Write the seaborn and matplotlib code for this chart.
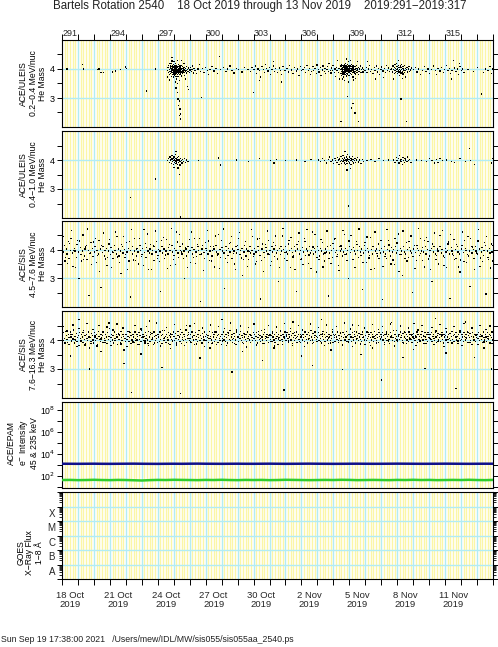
import numpy as np
import pandas as pd
import matplotlib
matplotlib.use("Agg")
import matplotlib.pyplot as plt
import seaborn as sns
from matplotlib.ticker import FixedLocator, FixedFormatter, NullFormatter, LogLocator

# ---------------- data (hours since 2019:291 00:00, mass x100) ----------------
TITLE = "Bartels Rotation 2540    18 Oct 2019 through 13 Nov 2019    2019:291\u22122019:317"
FOOTER = "Sun Sep 19 17:38:00 2021   /Users/mew/IDL/MW/sis055/sis055aa_2540.ps"
DAY_LABELS = ["291", "294", "297", "300", "303", "306", "309", "312", "315"]
DATE_LABELS = ["18 Oct\n2019", "21 Oct\n2019", "24 Oct\n2019", "27 Oct\n2019", "30 Oct\n2019",
               "2 Nov\n2019", "5 Nov\n2019", "8 Nov\n2019", "11 Nov\n2019"]
LABEL_DAYS = [0, 3, 6, 9, 12, 15, 18, 21, 24]
PANEL_LABELS = ["ACE/ULEIS\n0.2\u22120.4 MeV/nuc\nHe Mass",
                "ACE/ULEIS\n0.4\u22121.0 MeV/nuc\nHe Mass",
                "ACE/SIS\n4.5\u22127.6 MeV/nuc\nHe Mass",
                "ACE/SIS\n7.6\u221216.3 MeV/nuc\nHe Mass",
                "ACE/EPAM\ne$^{-}$ Intensity\n45 & 235 keV",
                "GOES\nX\u2212Ray Flux\n1\u22128 \u00c5"]
GOES_CLASSES = ["A", "B", "C", "M", "X"]
GOES_CLASS_FLUX = [10**-7.5, 10**-6.5, 10**-5.5, 10**-4.5, 10**-3.5]

# panel 1: ULEIS 0.2-0.4 MeV/nuc  (hour, mass*100) pairs
P1 = [7,400, 30,415, 32,400, 53,398, 55,400, 58,388, 62,388, 75,390, 80,393, 87,398, 95,407, 96,402, 127,324, 140,400,
      158,395, 159,405, 160,388, 160,412, 161,398, 161,380, 162,420, 162,392, 163,403, 163,385, 163,410, 164,397, 164,375,
      164,418, 165,400, 165,389, 165,408, 165,428, 166,395, 166,382, 166,412, 166,401, 167,390, 167,405, 167,372, 167,415,
      168,398, 168,386, 168,409, 168,393, 168,425, 169,402, 169,378, 169,396, 169,412, 169,388, 170,400, 170,407, 170,383,
      170,394, 170,418, 171,392, 171,404, 171,375, 171,399, 171,410, 172,386, 172,401, 172,397, 172,413, 172,365, 173,395,
      173,406, 173,380, 173,390, 173,430, 174,399, 174,388, 174,408, 174,374, 175,402, 175,393, 175,415, 175,384, 176,397,
      176,405, 176,380, 176,392, 177,410, 177,389, 177,400, 178,395, 178,383, 178,407, 179,398, 179,376, 179,412, 180,390,
      180,402, 181,396, 181,385, 181,408, 182,393, 182,400, 183,388, 183,404, 184,397, 184,378, 185,402, 185,391, 186,395,
      187,408, 187,386, 188,399, 189,392, 190,403, 191,388, 192,397, 193,405, 194,392, 195,398, 197,386, 198,402, 200,395,
      158,372, 161,362, 165,440, 170,355, 176,360, 179,430, 183,420, 185,365, 164,392, 166,404, 168,380, 170,412, 172,393,
      174,396, 176,410, 178,399, 167,398, 169,405, 171,386, 173,398, 175,396, 177,393,
      171,335, 173,320, 174,297, 176,290, 175,275, 177,262, 178,245, 176,240, 178,228, 173,350, 188,340, 190,330,
      196,410, 199,395, 202,385, 204,400, 206,415, 208,392, 209,301, 211,402, 213,388, 215,405, 218,396, 220,380, 222,398,
      225,408, 228,393, 231,401, 233,385, 236,442, 238,398, 242,405, 246,392, 248,400, 252,410, 255,395, 258,386, 262,402,
      265,398, 270,390, 274,405, 279,398,
      283,392, 285,405, 287,320, 288,398, 290,410, 292,385, 294,400, 296,395, 298,372, 300,408, 302,398, 304,388, 305,415,
      307,401, 309,393, 311,405, 313,380, 315,398, 317,410, 319,392, 321,401, 323,387, 326,403, 328,396, 330,380, 332,408,
      335,395, 338,402, 340,390, 342,412, 345,397, 347,385, 349,404, 352,393, 354,400, 356,378, 358,408, 360,395, 296,360,
      330,355, 317,425,
      362,398, 364,405, 366,387, 368,412, 370,395, 372,401, 373,380, 375,392, 377,408, 378,396, 380,402, 382,385, 383,414,
      385,399, 386,390, 388,405, 389,377, 391,397, 392,410, 394,392, 395,402, 396,384, 398,399, 399,408, 400,392, 401,420,
      403,396, 404,386, 405,403, 406,395, 407,412, 409,389, 410,400, 411,375, 412,405, 413,396, 414,430, 415,388, 416,402,
      417,365, 418,410,
      419,398, 419,385, 419,410, 420,402, 420,392, 420,378, 420,415, 421,400, 421,388, 421,406, 421,395, 422,412, 422,383,
      422,398, 422,404, 423,391, 423,408, 423,372, 423,399, 424,402, 424,386, 424,415, 424,394, 425,400, 425,410, 425,380,
      425,396, 426,389, 426,405, 426,398, 426,420, 427,392, 427,401, 427,376, 427,410, 428,397, 428,385, 428,404, 428,392,
      429,408, 429,399, 429,382, 429,415, 430,395, 430,402, 430,388, 430,425, 431,398, 431,410, 431,378, 432,393, 432,405,
      432,387, 432,400, 433,412, 433,396, 433,384, 434,402, 434,391, 434,408, 435,399, 435,380, 435,415, 436,395, 436,404,
      436,389, 437,400, 437,410, 437,372, 438,393, 438,405, 439,386, 439,399, 440,408, 440,392, 441,401, 441,383, 442,396,
      442,412, 443,388, 443,402, 444,397, 445,405, 445,380, 446,392, 447,400, 448,410, 449,387, 450,398, 451,403, 452,390,
      453,398, 424,360, 430,355, 438,362, 444,425, 427,435, 433,430, 421,365, 441,368, 422,390, 424,405, 426,394, 428,401,
      430,391, 432,397, 434,395, 436,400, 438,387, 440,399, 425,392, 429,392, 433,391, 437,395,
      429,305, 435,265, 440,248, 445,220, 419,220, 437,282,
      455,395, 457,405, 458,388, 460,400, 462,412, 463,392, 465,399, 467,385, 469,404, 470,396, 472,410, 474,390, 475,402,
      477,380, 479,398, 480,407, 482,393, 484,401, 486,388, 487,412, 489,395, 490,403, 492,391, 494,398, 459,425, 471,365,
      483,370,
      495,402, 496,390, 497,410, 498,398, 499,385, 499,405, 500,415, 500,395, 501,388, 501,402, 502,420, 502,398, 503,392,
      503,408, 504,385, 504,400, 505,412, 505,396, 506,390, 506,405, 507,378, 507,399, 508,410, 508,393, 509,386, 509,404,
      509,297, 510,398, 510,415, 511,390, 511,402, 512,383, 512,408, 513,396, 513,400, 514,388, 514,412, 515,395, 516,402,
      516,372, 517,398, 517,220, 518,405, 519,390, 520,400, 521,408, 522,392, 523,397, 525,403, 505,430, 511,368, 498,365,
      528,398, 531,405, 533,390, 536,400, 538,382, 541,395, 544,408, 547,392, 550,400, 552,385, 555,398, 558,410, 561,395,
      563,380, 565,402, 568,393, 570,405, 573,388, 575,398, 578,412, 580,395, 582,401, 584,385, 586,396, 588,430, 590,403,
      592,392, 594,400, 596,382, 598,408, 600,395, 602,400, 604,388, 585,365, 597,420,
      610,398, 618,392, 624,405, 630,314, 633,388, 636,400, 640,395, 643,408, 645,385, 647,400]

# panel 2: ULEIS 0.4-1.0 MeV/nuc
P2 = [102,270, 140,334, 205,398, 235,407, 238,383, 262,400, 280,395, 296,405, 313,398, 318,390, 322,402, 336,398,
      352,400, 365,395, 374,402,
      158,398, 160,405, 161,392, 162,410, 163,400, 164,388, 165,403, 165,415, 166,396, 167,405, 167,385, 168,399, 168,410,
      169,392, 169,402, 170,397, 170,420, 171,388, 171,404, 172,400, 172,393, 173,408, 173,385, 174,398, 174,402, 175,392,
      175,412, 176,400, 177,395, 177,383, 178,405, 178,203, 179,398, 180,390, 181,402, 182,396, 184,405, 185,392, 187,400,
      189,396, 171,430, 174,372, 168,375, 176,350,
      385,400, 388,395, 391,405, 394,398, 397,390, 400,402, 402,410, 404,395, 406,400, 408,388, 410,405, 411,398, 413,392,
      414,408, 415,400, 416,385, 417,403, 418,396, 419,412, 420,398, 420,388, 421,405, 422,395, 422,415, 423,400, 424,390,
      424,407, 425,398, 426,385, 426,402, 427,410, 427,395, 428,400, 428,388, 429,405, 429,420, 430,396, 430,241, 431,402,
      432,390, 432,410, 433,398, 434,405, 434,385, 435,400, 436,395, 436,412, 437,402, 438,390, 439,398, 440,405, 441,392,
      442,400, 444,408, 445,393, 447,400, 449,388, 451,402, 453,395, 425,430, 433,370, 428,365,
      458,398, 464,402, 470,395, 476,405, 483,398, 490,400,
      498,400, 500,392, 502,408, 503,398, 505,405, 506,390, 507,415, 508,400, 509,395, 510,402, 511,385, 512,408, 513,398,
      514,392, 515,405, 516,400, 518,395, 519,410, 520,398, 522,402, 524,392,
      532,400, 540,398, 548,395, 552,405, 556,398, 560,390, 563,402, 565,392, 568,405, 572,398, 578,400, 585,395, 590,392,
      598,405, 606,395, 612,440, 614,398, 620,385, 645,390, 647,405]

# panel 3: SIS 4.5-7.6 MeV/nuc
P3 = [1,392, 3,415, 4,360, 6,402, 7,385, 9,428, 10,370, 12,398, 13,440, 15,388, 16,342, 18,405, 19,395, 21,372, 22,418,
      24,392, 25,300, 27,408, 28,382, 30,395, 31,451, 33,378, 34,402, 36,415, 37,365, 39,398, 40,240, 42,388, 43,425,
      45,405, 46,375, 48,392, 49,410, 51,355, 52,398, 54,385, 55,432, 57,402, 58,268, 60,390, 61,412, 63,378, 64,398,
      66,405, 67,345, 69,395, 70,420, 72,382, 73,408, 75,392, 76,368, 78,415, 79,398, 81,385, 82,445, 84,402, 85,378,
      87,395, 88,318, 90,410, 91,388, 93,400, 94,372, 96,425, 97,392, 99,405, 100,360, 102,398, 103,235, 105,412, 106,385,
      108,395, 109,438, 111,378, 112,402, 114,392, 115,350, 117,415, 118,398, 120,382, 121,405, 123,470, 124,390, 126,372,
      127,408, 129,395, 130,330, 132,402, 133,418, 135,385, 136,398, 138,362, 139,410, 141,392, 142,428, 144,380, 145,400,
      147,395, 148,255, 150,412, 151,388, 153,402, 154,370, 156,395, 157,435, 159,385, 160,408, 162,398, 163,345, 165,415,
      166,392, 168,380, 169,405, 171,398, 172,462, 174,388, 175,372, 177,410, 178,398, 180,385, 181,420, 183,395, 184,300,
      186,402, 187,378, 189,412, 190,392, 192,398, 193,355, 195,408, 196,385, 198,400, 199,440, 201,392, 202,375, 204,410,
      205,398, 207,382, 208,220, 210,402, 211,415, 213,390, 214,368, 216,405, 217,398, 219,385, 220,430, 222,395, 223,410,
      225,378, 226,398, 228,402, 229,340, 231,415, 232,392, 234,385, 235,452, 237,400, 238,372, 240,408, 241,395, 243,388,
      244,265, 246,412, 247,398, 249,380, 250,405, 252,392, 253,425, 255,370, 256,402, 258,395, 259,350, 261,410, 262,388,
      264,400, 265,438, 267,382, 268,398, 270,405, 271,310, 273,392, 274,415, 276,378, 277,402, 279,395, 280,365, 282,410,
      283,388, 285,398, 286,445, 288,385, 289,405, 291,392, 292,358, 294,412, 295,398, 297,380, 298,228, 300,402, 301,420,
      303,390, 304,372, 306,408, 307,395, 309,385, 310,432, 312,398, 313,345, 315,410, 316,392, 318,402, 319,375, 321,415,
      322,388, 324,398, 325,290, 327,405, 328,382, 330,395, 331,448, 333,400, 334,368, 336,410, 337,392, 339,385, 340,420,
      342,398, 343,338, 345,405, 346,390, 348,378, 349,412, 351,395, 352,255, 354,402, 355,428, 357,385, 358,398, 360,370,
      361,408, 363,392, 364,440, 366,380, 367,402, 369,395, 370,352, 372,410, 373,388, 375,398, 376,462, 378,385, 379,405,
      381,392, 382,322, 384,412, 385,398, 387,378, 388,405, 390,395, 391,425, 393,385, 394,360, 396,402, 397,392, 399,410,
      400,238, 402,388, 403,415, 405,398, 406,372, 408,405, 409,435, 411,390, 412,398, 414,382, 415,345, 417,410, 418,395,
      420,402, 421,378, 423,392, 424,452, 426,405, 427,385, 429,398, 430,300, 432,412, 433,390, 435,400, 436,365, 438,408,
      439,395, 441,385, 442,428, 444,398, 445,372, 447,410, 448,392, 450,402, 451,262, 453,388, 454,415, 456,398, 457,355,
      459,405, 460,392, 462,380, 463,442, 465,400, 466,385, 468,410, 469,335, 471,395, 472,402, 474,378, 475,420, 477,398,
      478,388, 480,405, 481,225, 483,392, 484,412, 486,385, 487,368, 489,400, 490,432, 492,395, 493,378, 495,408, 496,392,
      498,400, 499,348, 501,412, 502,388, 504,398, 505,455, 507,382, 508,405, 510,395, 511,310, 513,410, 514,392, 516,385,
      517,425, 519,400, 520,372, 522,408, 523,395, 525,388, 526,250, 528,402, 529,415, 531,390, 532,362, 534,405, 535,398,
      537,380, 538,440, 540,395, 541,408, 543,392, 544,340, 546,410, 547,385, 549,400, 550,428, 552,378, 553,398, 555,405,
      556,288, 558,392, 559,412, 561,385, 562,365, 564,402, 565,395, 567,410, 568,450, 570,388, 571,400, 573,378, 574,345,
      576,405, 577,392, 579,398, 580,420, 582,385, 583,230, 585,408, 586,395, 588,380, 589,435, 591,400, 592,370, 594,410,
      595,392, 597,385, 598,322, 600,402, 601,415, 603,390, 604,358, 606,405, 607,398, 609,382, 610,445, 612,395, 613,272,
      615,410, 616,388, 618,400, 619,368, 621,412, 622,395, 624,385, 625,430, 627,402, 628,342, 630,392, 631,408, 633,380,
      634,398, 636,415, 637,245, 639,395, 640,372, 642,405, 643,388, 645,420, 646,392, 647,360]
P3_WIDE = [2,445, 5,372, 8,352, 11,421, 14,468, 17,396, 20,338, 23,433, 26,430, 29,361, 32,365, 35,409, 38,472, 41,386,
           44,348, 47,427, 50,440, 53,379, 56,325, 59,414, 62,458, 65,367, 68,372, 71,436, 74,338, 77,391, 80,462, 83,374,
           86,355, 89,417, 92,445, 95,383, 98,332, 101,429, 104,470, 107,364, 110,362, 113,404, 116,438, 119,377, 122,345,
           125,422, 128,455, 131,388, 134,330, 137,413, 140,465, 143,369, 146,358, 149,431, 152,442, 155,381, 158,335,
           161,419, 164,475, 167,366, 170,348, 173,427, 176,452, 179,392, 182,368, 185,408, 188,338, 191,436, 194,462,
           197,373, 200,352, 203,418, 206,440, 209,385, 212,328, 215,424, 218,468, 221,363, 224,360, 227,411, 230,448,
           233,379, 236,335, 239,433, 242,472, 245,368, 248,355, 251,421, 254,445, 257,386, 260,332, 263,415, 266,460,
           269,371, 272,365, 275,429, 278,342, 281,394, 284,470, 287,376, 290,350, 293,437, 296,438, 299,362, 302,325,
           305,419, 308,465, 311,383, 314,358, 317,426, 320,448, 323,367, 326,338, 329,412, 332,475, 335,389, 338,362,
           341,431, 344,442, 347,374, 350,330, 353,417, 356,458, 359,365, 362,348, 365,428, 368,470, 371,381, 374,335,
           377,409, 380,452, 383,372, 386,365, 389,435, 392,340, 395,388, 398,465, 401,368, 404,352, 407,422, 410,440,
           413,377, 416,328, 419,413, 422,468, 425,384, 428,362, 431,430, 434,450, 437,366, 440,338, 443,418, 446,472,
           449,379, 452,356, 455,426, 458,444, 461,371, 464,330, 467,410, 470,462, 473,387, 476,368, 479,433, 482,342,
           485,375, 488,470, 491,416, 494,350, 497,364, 500,438, 503,423, 506,325, 509,382, 512,465, 515,369, 518,360,
           521,428, 524,448, 527,376, 530,335, 533,414, 536,475, 539,386, 542,362, 545,431, 548,442, 551,367, 554,332,
           557,420, 560,458, 563,380, 566,350, 569,411, 572,468, 575,373, 578,338, 581,427, 584,452, 587,385, 590,365,
           593,418, 596,340, 599,364, 602,462, 605,433, 608,355, 611,378, 614,440, 617,409, 620,330, 623,388, 626,470,
           629,371, 632,358, 635,424, 638,446, 641,366, 644,336, 647,415]

# panel 4: SIS 7.6-16.3 MeV/nuc, hourly mass*100 (one row per day)
P4_HOURLY = [
    412,398,425,405,388,430,415,402,392,420,408,385,428,410,396,418,403,435,390,412,400,422,395,408,
    415,380,425,405,398,418,410,392,432,402,415,388,420,405,398,428,412,372,408,395,422,415,400,390,
    425,410,398,418,405,385,430,412,402,395,420,408,415,392,428,405,398,418,410,388,425,402,412,440,
    395,408,420,400,415,390,428,405,398,418,410,385,422,402,415,392,430,408,398,420,412,365,405,395,
    418,402,430,412,395,408,425,388,415,400,420,410,392,428,405,398,418,412,385,425,402,415,395,432,
    408,420,398,412,390,425,405,415,400,388,430,410,395,418,402,422,408,385,428,412,398,415,405,392,
    420,410,395,428,402,415,388,418,405,398,432,412,392,420,408,400,425,415,385,410,402,418,395,428,
    412,398,422,405,390,415,430,402,410,395,420,388,425,408,398,418,412,402,435,392,415,405,420,398,
    405,418,392,428,410,400,415,385,425,402,412,395,420,408,432,398,415,405,390,422,410,400,428,412,
    398,420,408,415,392,430,405,412,400,388,425,410,418,395,402,428,408,415,392,420,405,398,412,385,
    418,405,428,400,412,395,420,408,390,425,415,402,432,398,410,418,392,405,422,412,400,385,428,408,
    412,395,420,405,430,398,415,408,388,422,410,402,418,395,428,405,412,400,420,392,415,408,398,425,
    405,418,398,412,425,390,408,420,402,415,395,432,410,400,418,388,425,405,412,398,420,408,392,415,
    420,402,415,395,428,410,400,418,392,405,425,412,385,420,408,398,430,415,402,395,418,410,405,428,
    398,412,425,405,392,418,410,430,400,415,388,422,408,398,415,405,428,392,412,420,402,395,418,410,
    415,400,420,408,395,428,412,402,418,390,425,405,415,398,432,410,400,422,392,408,415,428,402,395,
    408,425,398,415,405,420,390,412,430,402,418,395,408,425,412,400,388,420,410,398,415,405,428,392,
    420,408,395,418,410,402,428,392,415,405,422,398,412,385,425,408,418,400,410,430,395,415,402,420,
    402,418,410,395,425,408,400,420,412,390,428,405,415,398,422,410,402,418,395,428,408,412,400,385,
    415,398,428,405,412,420,392,408,425,400,418,410,395,430,405,415,398,420,408,392,425,412,402,418,
    410,425,400,415,392,418,405,428,398,412,420,402,388,425,410,415,398,408,432,395,418,405,412,400,
    395,412,420,402,428,408,415,398,422,390,410,425,405,418,400,412,395,428,408,420,402,415,392,410,
    422,405,398,415,410,428,392,420,402,412,395,418,408,430,400,415,388,425,410,402,418,395,420,408,
    408,418,402,425,395,412,420,405,398,428,410,392,415,422,400,408,418,395,412,425,402,390,420,410,
    415,400,428,410,392,418,405,422,398,412,430,402,415,395,420,408,425,400,412,388,418,405,428,398,
    402,420,410,395,425,412,400,418,405,430,392,415,408,422,398,412,385,425,410,402,420,395,415,408,
    418,405,425,398,412,420,402,415,392,428,408,400,418,410,395,425,412,402,420,390,415,408,428,400]
# second SIS sample every 3 h (starting 01 UT), mass*100
P4_3HOUR = [
    446,392,431,385,418,452,401,377,440,396,425,383,457,409,388,436,414,379,449,403,
    428,391,445,412,381,434,398,455,420,386,442,406,377,430,415,393,451,400,384,438,
    411,396,447,381,425,404,390,458,419,379,433,407,444,388,421,397,453,383,416,437,
    402,380,449,426,393,411,456,386,432,399,441,378,418,405,452,390,427,384,446,413,
    397,439,381,423,458,401,387,435,409,448,392,420,376,443,415,399,454,383,429,406,
    388,437,411,450,394,422,379,445,403,431,385,457,417,396,440,382,426,408,449,391,
    434,378,419,402,455,387,428,413,444,395,421,381,452,407,389,436,416,447,398,424,
    383,458,410,393,438,377,429,404,451,386,418,442,399,425,380,453,412,390,437,406,
    446,384,421,396,455,409,379,432,415,448,392,427,387,441,403,419,457,381,435,398,
    450,413,388,426,406,444,384,431,394,453,417,378,439,402,422,389,447,411,396,433,
    380,456,408,425,391,442,399,418,385,451,414,393,436,405,448,387]
P4_OUTLIERS = [12,345, 25,470, 41,300, 58,360, 70,458, 93,318, 104,220, 118,352, 131,465, 150,305, 163,370, 178,215,
               192,448, 207,338, 222,372, 240,470, 255,290, 271,360, 288,455, 301,330, 318,372, 333,228, 347,462,
               360,345, 376,312, 390,470, 404,365, 421,298, 436,452, 449,350, 466,372, 480,262, 495,460, 512,340,
               528,368, 545,302, 561,475, 577,355, 592,232, 606,462, 620,340, 634,372, 645,300]

# panel 5: EPAM electron intensities, every 12 h
EPAM_LOW = [1260, 1250, 1240, 1255, 1270, 1245, 1235, 1250, 1265, 1280, 1255, 1240, 1230, 1250, 1260, 1245, 1270, 1285,
            1260, 1250, 1240, 1255, 1265, 1250, 1245, 1260, 1275, 1255, 1240, 1250, 1265, 1280, 1260, 1250, 1235, 1245,
            1260, 1270, 1255, 1245, 1250, 1265, 1280, 1270, 1255, 1245, 1250, 1260, 1275, 1265, 1250, 1240, 1255, 1265, 1260]
EPAM_HIGH = [42, 43, 41, 42, 44, 42, 41, 43, 42, 40, 38, 41, 43, 42, 44, 43, 42, 41, 43, 42, 44, 42, 41, 43, 42, 43, 41,
             42, 44, 43, 42, 41, 42, 43, 42, 44, 43, 41, 42, 43, 42, 41, 43, 42, 44, 42, 43, 41, 42, 43, 42, 44, 42, 41, 43]

# ---------------- figure ----------------
sns.set_theme(style="white")
plt.rcParams["font.family"] = ["Liberation Sans", "DejaVu Sans"]
plt.rcParams["axes.linewidth"] = 0.8

W, H = 498, 647
fig = plt.figure(figsize=(W / 100, H / 100), dpi=100)
ROWS = [(40, 127), (131, 218), (221, 307), (311, 398), (402, 488), (492, 579)]
LEFT, RIGHT = 62, 493
NH = 27 * 24
CYAN = "#b2ecf4"
YELLOW = "#fbf6a6"
TICK_FS = 6.5
LABEL_FS = 6.2

axes = []
for top, bot in ROWS:
    ax = fig.add_axes([LEFT / W, 1 - bot / H, (RIGHT - LEFT) / W, (bot - top) / H])
    axes.append(ax)


def background(ax):
    yel = [h for h in range(0, NH, 4) if h % 24 != 0]
    ax.vlines(yel, 0, 1, transform=ax.get_xaxis_transform(), colors=YELLOW, lw=1.0, zorder=0)
    ax.vlines(np.arange(24, NH, 24), 0, 1, transform=ax.get_xaxis_transform(), colors=CYAN, lw=1.0, zorder=0.5)


def common(ax):
    ax.set_xlim(0, NH)
    ax.set_xlabel("")
    ax.set_ylabel("")
    for s in ax.spines.values():
        s.set_visible(True)
        s.set_color("black")
        s.set_linewidth(0.8)
    ax.xaxis.set_major_locator(FixedLocator(np.arange(0, NH + 1, 24)))
    ax.xaxis.set_major_formatter(NullFormatter())
    ax.xaxis.set_minor_locator(FixedLocator([d * 24 + 12 for d in LABEL_DAYS]))
    ax.xaxis.set_minor_formatter(NullFormatter())
    ax.tick_params(axis="x", which="both", top=False, bottom=False, labeltop=False, labelbottom=False)
    ax.tick_params(axis="y", which="both", direction="out", left=True, right=True, labelleft=True,
                   labelright=False, length=3.5, width=0.7, labelsize=TICK_FS, pad=2, colors="black")
    ax.patch.set_facecolor("white")


def pairs(*flats):
    arr = np.concatenate([np.array(f).reshape(-1, 2) for f in flats])
    return pd.DataFrame({"hour": arr[:, 0] + 0.5, "mass": arr[:, 1] / 100.0})


p4 = np.array(P4_HOURLY)
p4b = np.array(P4_3HOUR)
df4 = pd.concat([pd.DataFrame({"hour": np.arange(len(p4)) + 0.5, "mass": p4 / 100.0}),
                 pd.DataFrame({"hour": 1.5 + 3 * np.arange(len(p4b)), "mass": p4b / 100.0}),
                 pairs(P4_OUTLIERS)], ignore_index=True)
mass_sets = [pairs(P1), pairs(P2), pairs(P3, P3_WIDE), df4]

for i, df in enumerate(mass_sets):
    ax = axes[i]
    background(ax)
    for yv in (3, 4):
        ax.axhline(yv, color=CYAN, lw=1.0, zorder=0.6)
    sns.scatterplot(data=df, x="hour", y="mass", ax=ax, s=0.9 if i < 3 else 1.0, marker="s",
                    color="black", edgecolor="none", linewidth=0, legend=False, zorder=3)
    common(ax)
    ax.set_ylim(2, 5)
    ax.yaxis.set_major_locator(FixedLocator([3, 4]))
    ax.yaxis.set_major_formatter(FixedFormatter(["3", "4"]))
    ax.yaxis.set_minor_locator(FixedLocator([2.5, 3.5, 4.5]))
    ax.yaxis.set_minor_formatter(NullFormatter())

# EPAM
ax = axes[4]
background(ax)
eh = np.arange(len(EPAM_LOW)) * 12
sns.lineplot(x=eh, y=EPAM_LOW, ax=ax, color="#10108a", lw=1.8, zorder=3)
sns.lineplot(x=eh, y=EPAM_HIGH, ax=ax, color="#2ecc2e", lw=1.8, zorder=3)
ax.set_yscale("log")
common(ax)
ax.set_ylim(10**0.9, 10**8.7)
ax.yaxis.set_major_locator(FixedLocator([1e2, 1e4, 1e6, 1e8]))
ax.yaxis.set_major_formatter(FixedFormatter(["10$^{2}$", "10$^{4}$", "10$^{6}$", "10$^{8}$"]))
ax.yaxis.set_minor_locator(FixedLocator([1e1, 1e3, 1e5, 1e7]))
ax.yaxis.set_minor_formatter(NullFormatter())
ax.tick_params(axis="y", which="major", labelsize=TICK_FS - 0.3, pad=1.5)

# GOES
ax = axes[5]
background(ax)
for e in range(-7, -2):
    ax.axhline(10.0**e, color=CYAN, lw=1.0, zorder=0.6)
ax.set_yscale("log")
common(ax)
ax.set_ylim(1e-8, 1e-2)
ax.yaxis.set_major_locator(LogLocator(base=10, numticks=20))
ax.yaxis.set_major_formatter(NullFormatter())
ax.yaxis.set_minor_locator(LogLocator(base=10, subs=np.arange(2, 10), numticks=20))
ax.yaxis.set_minor_formatter(NullFormatter())
ax.tick_params(axis="y", which="minor", length=2.5, width=0.6)
for lab, fl in zip(GOES_CLASSES, GOES_CLASS_FLUX):
    ax.annotate(lab, xy=(0, fl), xycoords=("axes fraction", "data"), xytext=(-5, 0),
                textcoords="offset points", ha="right", va="center", fontsize=TICK_FS + 0.5)

# top day-of-year axis
ax = axes[0]
ax.tick_params(axis="x", which="major", top=True, direction="out", length=4, width=0.7, colors="black")
ax.tick_params(axis="x", which="minor", top=True, length=0, labeltop=True, labelsize=TICK_FS, pad=1.5)
ax.xaxis.set_minor_formatter(FixedFormatter(DAY_LABELS))

# bottom date axis
ax = axes[5]
ax.tick_params(axis="x", which="major", bottom=True, direction="out", length=4, width=0.7, colors="black")
ax.tick_params(axis="x", which="minor", bottom=True, length=0, labelbottom=True, labelsize=TICK_FS + 0.3, pad=9)
ax.xaxis.set_minor_formatter(FixedFormatter(DATE_LABELS))
for t in ax.xaxis.get_minorticklabels():
    t.set_linespacing(0.95)

# panel labels
LABEL_CENTERS = [(33, 83.5), (33, 174.5), (33, 264), (33, 354.5), (23, 443), (30, 553)]
for lab, (xc, yc) in zip(PANEL_LABELS, LABEL_CENTERS):
    fig.text(xc / W, 1 - yc / H, lab, rotation=90, ha="center", va="center", multialignment="center",
             fontsize=LABEL_FS, linespacing=1.05, color="black")

fig.text(260 / W, 1 - 6 / H, TITLE, ha="center", va="center", fontsize=8.3, color="#222222")
fig.text(1 / W, 1 - 640 / H, FOOTER, ha="left", va="center", fontsize=6.3, color="#222222")

fig.savefig("out.png", dpi=100)
